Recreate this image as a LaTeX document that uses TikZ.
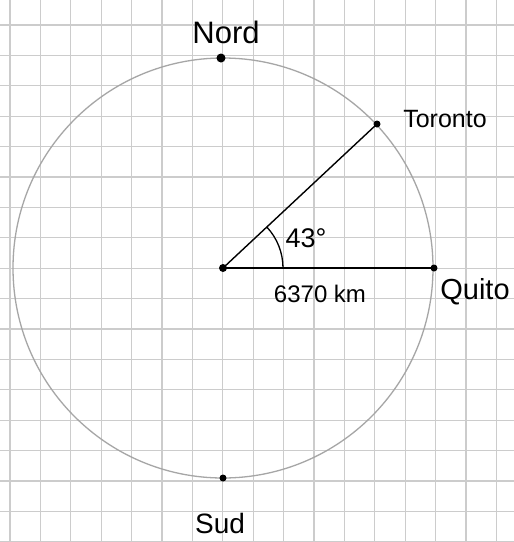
\documentclass[tikz,border=0pt]{standalone}
\usepackage{fontspec}
\setmainfont{Liberation Sans}
\usetikzlibrary{angles}
\tikzset{
  gridline/.style={draw=gray!40, line width=1.1pt},
  dot/.style={circle, fill=black, inner sep=0pt, minimum size=8pt},
  lbl/.style={anchor=base, inner sep=0pt},
  radius line/.style={line width=1.4pt, black},
}
\begin{document}
\begin{tikzpicture}[x=1pt,y=-1pt]
\fill[white] (0,0) rectangle (514,542);
\useasboundingbox (0,0) rectangle (514,542);
% graph paper
\foreach \k in {0,...,16} {
  \draw[gridline] ({10+30.4*\k},0) -- ({10+30.4*\k},542);
}
\foreach \k in {0,...,17} {
  \draw[gridline] (0,{25+30.4*\k}) -- (514,{25+30.4*\k});
}
% globe
\draw[gray!70, line width=1.3pt] (223,268) circle[radius=210];
% points
\node[dot] (O) at (223,268) {};
\node[dot, minimum size=9pt] (N) at (221,58) {};
\node[dot, minimum size=7pt] (S) at (223,478) {};
\node[dot, minimum size=7pt] (Q) at (434,268) {};
\node[dot, minimum size=7pt] (T) at (377,124) {};
% radii
\draw[radius line] (O.center) -- (T.center);
\draw[radius line] (O.center) -- (Q.center);
\pic[draw, line width=1.3pt, angle radius=60pt] {angle=Q--O--T};
% labels
\node[lbl, font=\fontsize{31}{34}\selectfont] (nord) at (226,43) {Nord};
\node[lbl, font=\fontsize{25}{30}\selectfont] (toronto) at (445,127) {Toronto};
\node[lbl, font=\fontsize{27}{30}\selectfont] (ang) at (306,247) {43°};
\node[lbl, font=\fontsize{24}{30}\selectfont] (dist) at (320,302) {6370 km};
\node[lbl, font=\fontsize{29}{32}\selectfont] (quito) at (475,299) {Quito};
\node[lbl, font=\fontsize{28}{32}\selectfont] (sud) at (220,533) {Sud};
\end{tikzpicture}
\end{document}
